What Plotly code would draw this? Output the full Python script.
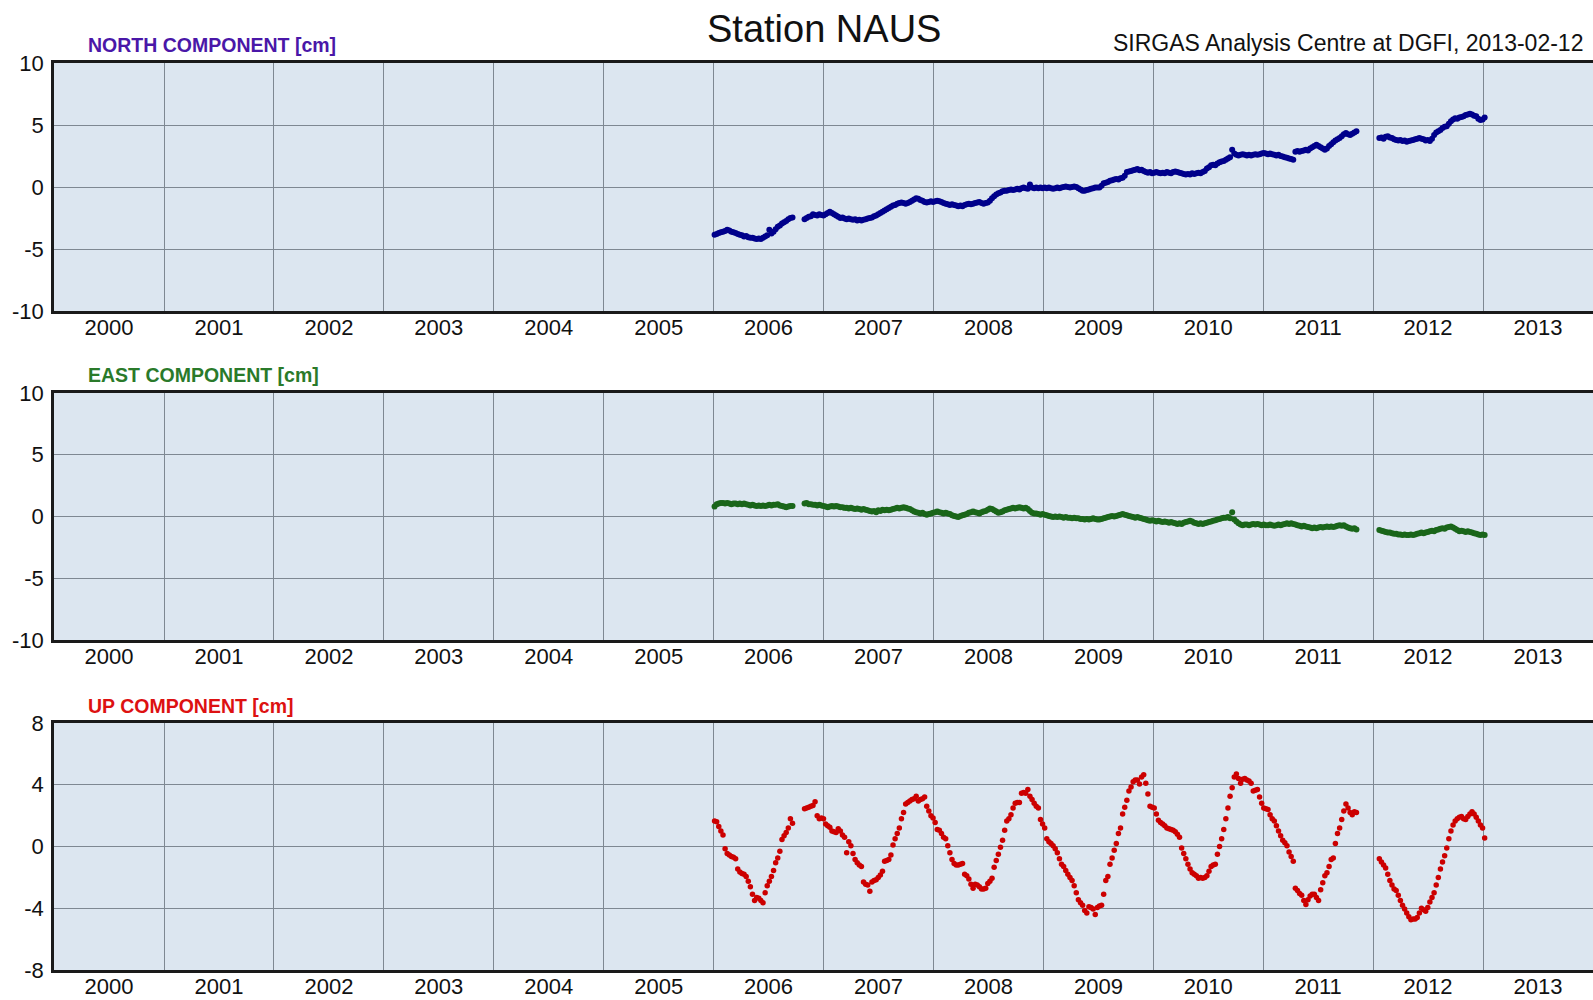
import pandas as pd
import plotly.graph_objects as go

# ---------------- data ----------------
TITLE = "Station NAUS"
SUBTITLE = "SIRGAS Analysis Centre at DGFI, 2013-02-12"
PANEL_LABELS = ["NORTH COMPONENT [cm]", "EAST COMPONENT [cm]", "UP COMPONENT [cm]"]
X_RANGE = ["2000-01-01", "2014-01-01"]
Y_RANGES = [[-10, 10], [-10, 10], [-8, 8]]
Y_TICKS = [[-10, -5, 0, 5, 10], [-10, -5, 0, 5, 10], [-8, -4, 0, 4, 8]]
Y_TICKTEXT = [["-10", "-5", "0", "5", "10"], ["-10", "-5", "0", "5", "10"],
              ["-8", "-4", "0", "4", "8"]]

# weekly solutions: three continuous segments, start dates
SEGMENT_STARTS = ["2006-01-04", "2006-10-30", "2012-01-22"]

NORTH_A = [-3.85, -3.8, -3.7, -3.65, -3.6, -3.55, -3.45, -3.5, -3.6, -3.65,
           -3.7, -3.8, -3.85, -3.9, -4.0, -3.95, -4.05, -4.1, -4.1, -4.15,
           -4.2, -4.15, -4.2, -4.1, -4.0, -3.9, -3.45, -3.75, -3.6, -3.4,
           -3.2, -3.1, -2.95, -2.85, -2.75, -2.6, -2.5, -2.45]
NORTH_B = [-2.6, -2.5, -2.4, -2.35, -2.2, -2.25, -2.3, -2.2, -2.25, -2.3,
           -2.2, -2.1, -2.0, -2.1, -2.2, -2.3, -2.4, -2.5, -2.45, -2.55,
           -2.6, -2.55, -2.6, -2.65, -2.6, -2.7, -2.65, -2.7, -2.65, -2.6,
           -2.55, -2.5, -2.45, -2.35, -2.3, -2.2, -2.1, -2.0, -1.9, -1.8,
           -1.7, -1.6, -1.5, -1.45, -1.35, -1.3, -1.25, -1.3, -1.35, -1.3,
           -1.2, -1.1, -1.0, -0.9, -0.95, -1.05, -1.1, -1.2, -1.25, -1.2,
           -1.15, -1.2, -1.15, -1.1, -1.15, -1.2, -1.3, -1.35, -1.4, -1.45,
           -1.4, -1.45, -1.5, -1.55, -1.5, -1.55, -1.45, -1.4, -1.35, -1.4,
           -1.35, -1.3, -1.25, -1.2, -1.3, -1.35, -1.3, -1.25, -1.1, -0.9,
           -0.75, -0.6, -0.5, -0.45, -0.35, -0.3, -0.3, -0.25, -0.2, -0.25,
           -0.2, -0.15, -0.2, -0.1, -0.05, -0.1, -0.15, 0.2, -0.05, -0.1,
           -0.05, -0.1, -0.05, -0.1, -0.05, -0.1, -0.05, -0.1, -0.15, -0.1,
           -0.05, -0.1, -0.05, 0.0, 0.05, 0.0, -0.05, 0.0, 0.05, 0.0,
           -0.1, -0.2, -0.3, -0.3, -0.25, -0.2, -0.15, -0.1, -0.05, -0.05,
           -0.05, 0.1, 0.3, 0.35, 0.4, 0.5, 0.55, 0.6, 0.65, 0.6,
           0.7, 0.75, 0.9, 1.2, 1.25, 1.3, 1.35, 1.4, 1.45, 1.35,
           1.4, 1.3, 1.2, 1.15, 1.2, 1.1, 1.15, 1.2, 1.15, 1.1,
           1.15, 1.1, 1.2, 1.15, 1.1, 1.2, 1.25, 1.2, 1.15, 1.1,
           1.05, 1.0, 1.05, 1.0, 1.1, 1.05, 1.1, 1.15, 1.1, 1.2,
           1.3, 1.5, 1.6, 1.75, 1.8, 1.75, 1.9, 2.0, 2.05, 2.1,
           2.2, 2.3, 2.4, 3.0, 2.7, 2.6, 2.55, 2.6, 2.65, 2.6,
           2.55, 2.6, 2.55, 2.6, 2.65, 2.6, 2.65, 2.7, 2.75, 2.7,
           2.65, 2.7, 2.65, 2.6, 2.55, 2.6, 2.5, 2.45, 2.4, 2.35,
           2.3, 2.25, 2.2, 2.85, 2.9, 2.85, 2.9, 2.95, 3.0, 2.95,
           3.1, 3.2, 3.3, 3.4, 3.3, 3.2, 3.1, 3.0, 3.1, 3.3,
           3.45, 3.6, 3.75, 3.85, 3.95, 4.1, 4.25, 4.35, 4.25, 4.2,
           4.3, 4.4, 4.5]
NORTH_C = [3.95, 4.0, 3.9, 4.05, 4.1, 4.0, 3.95, 3.85, 3.8, 3.75,
           3.8, 3.7, 3.75, 3.65, 3.7, 3.75, 3.8, 3.85, 3.9, 3.95,
           3.9, 3.85, 3.75, 3.8, 3.7, 3.9, 4.2, 4.4, 4.5, 4.6,
           4.75, 4.85, 4.9, 5.1, 5.3, 5.45, 5.55, 5.5, 5.6, 5.65,
           5.7, 5.8, 5.85, 5.9, 5.85, 5.75, 5.7, 5.5, 5.4, 5.45,
           5.6]

EAST_A = [0.8, 1.0, 1.05, 1.1, 1.1, 1.05, 1.1, 1.05, 1.0, 1.05,
          1.05, 1.0, 1.05, 1.0, 1.05, 1.0, 0.95, 0.9, 0.95, 0.9,
          0.85, 0.9, 0.85, 0.9, 0.85, 0.9, 0.95, 0.9, 0.95, 0.95,
          1.0, 0.9, 0.85, 0.8, 0.75, 0.8, 0.85, 0.85]
EAST_B = [1.05, 1.1, 1.0, 1.0, 0.95, 0.95, 0.9, 0.95, 0.9, 0.85,
          0.8, 0.75, 0.8, 0.85, 0.8, 0.85, 0.8, 0.75, 0.75, 0.7,
          0.7, 0.65, 0.7, 0.65, 0.6, 0.65, 0.6, 0.55, 0.6, 0.55,
          0.5, 0.45, 0.4, 0.45, 0.35, 0.5, 0.45, 0.55, 0.5, 0.55,
          0.5, 0.55, 0.6, 0.65, 0.7, 0.65, 0.7, 0.75, 0.7, 0.65,
          0.6, 0.5, 0.4, 0.35, 0.3, 0.25, 0.3, 0.2, 0.15, 0.2,
          0.25, 0.3, 0.35, 0.4, 0.35, 0.3, 0.25, 0.3, 0.25, 0.2,
          0.1, 0.05, 0.0, -0.05, 0.05, 0.1, 0.15, 0.2, 0.3, 0.35,
          0.4, 0.35, 0.3, 0.25, 0.35, 0.4, 0.45, 0.55, 0.65, 0.6,
          0.5, 0.4, 0.3, 0.35, 0.4, 0.5, 0.55, 0.6, 0.65, 0.7,
          0.65, 0.7, 0.75, 0.7, 0.65, 0.7, 0.6, 0.45, 0.3, 0.25,
          0.25, 0.2, 0.15, 0.2, 0.15, 0.1, 0.05, 0.0, -0.05, 0.0,
          -0.05, 0.0, -0.05, -0.1, -0.05, -0.1, -0.1, -0.15, -0.1, -0.15,
          -0.15, -0.2, -0.2, -0.25, -0.2, -0.25, -0.2, -0.15, -0.2, -0.25,
          -0.25, -0.2, -0.15, -0.1, -0.05, 0.0, 0.05, 0.0, 0.05, 0.1,
          0.15, 0.2, 0.15, 0.1, 0.05, 0.0, -0.05, -0.1, -0.05, -0.1,
          -0.15, -0.2, -0.25, -0.3, -0.35, -0.3, -0.35, -0.4, -0.35, -0.4,
          -0.45, -0.4, -0.45, -0.5, -0.45, -0.5, -0.55, -0.6, -0.55, -0.6,
          -0.5, -0.45, -0.4, -0.35, -0.4, -0.5, -0.55, -0.6, -0.55, -0.6,
          -0.55, -0.5, -0.45, -0.4, -0.35, -0.3, -0.25, -0.2, -0.15, -0.1,
          -0.1, -0.05, -0.15, 0.35, -0.25, -0.4, -0.55, -0.65, -0.7, -0.65,
          -0.65, -0.7, -0.65, -0.6, -0.65, -0.6, -0.65, -0.7, -0.65, -0.7,
          -0.7, -0.65, -0.7, -0.75, -0.7, -0.65, -0.7, -0.65, -0.6, -0.55,
          -0.6, -0.55, -0.6, -0.65, -0.7, -0.75, -0.8, -0.75, -0.8, -0.85,
          -0.9, -0.95, -0.9, -0.95, -0.9, -0.85, -0.9, -0.85, -0.8, -0.85,
          -0.8, -0.85, -0.8, -0.75, -0.7, -0.75, -0.7, -0.8, -0.9, -0.95,
          -1.0, -0.95, -1.05]
EAST_C = [-1.1, -1.15, -1.2, -1.25, -1.3, -1.3, -1.35, -1.4, -1.4, -1.45,
          -1.45, -1.5, -1.45, -1.5, -1.5, -1.45, -1.5, -1.45, -1.4, -1.35,
          -1.3, -1.35, -1.3, -1.25, -1.2, -1.15, -1.2, -1.1, -1.05, -1.0,
          -0.95, -1.0, -0.9, -0.85, -0.8, -0.9, -1.0, -1.1, -1.2, -1.15,
          -1.2, -1.25, -1.2, -1.25, -1.3, -1.35, -1.4, -1.45, -1.5, -1.45,
          -1.5]

UP_A = [1.65, 1.6, 1.3, 1.0, 0.75, -0.15, -0.45, -0.55, -0.65, -0.7,
        -0.8, -1.45, -1.65, -1.75, -1.8, -1.95, -2.25, -2.6, -3.1, -3.5,
        -3.3, -3.35, -3.5, -3.65, -3.0, -2.55, -2.25, -1.95, -1.55, -1.05,
        -0.75, -0.3, 0.45, 0.7, 0.9, 1.2, 1.8, 1.5]
UP_B = [2.45, 2.5, 2.55, 2.6, 2.65, 2.9, 2.0, 1.8, 1.85, 1.8,
        1.45, 1.35, 1.25, 1.0, 0.95, 0.9, 1.15, 1.0, 0.75, 0.6,
        -0.4, 0.3, 0.05, -0.45, -0.85, -1.05, -1.2, -1.3, -2.3, -2.45,
        -2.5, -2.9, -2.3, -2.2, -2.15, -2.0, -1.85, -1.6, -0.95, -0.9,
        -0.85, -0.55, 0.1, 0.5, 0.85, 1.2, 1.8, 2.2, 2.75, 2.85,
        2.95, 3.05, 3.1, 3.25, 2.95, 3.05, 3.1, 3.2, 2.6, 2.3,
        2.0, 1.85, 1.55, 1.1, 1.05, 0.85, 0.6, 0.5, 0.05, -0.4,
        -0.85, -1.1, -1.2, -1.2, -1.15, -1.1, -1.8, -1.9, -2.1, -2.45,
        -2.7, -2.45, -2.5, -2.6, -2.75, -2.75, -2.7, -2.4, -2.25, -2.05,
        -1.35, -0.9, -0.5, -0.05, 0.4, 1.05, 1.65, 1.8, 2.05, 2.5,
        2.8, 2.85, 2.85, 3.45, 3.5, 3.45, 3.7, 3.25, 3.05, 2.8,
        2.6, 2.5, 1.75, 1.45, 1.2, 0.5, 0.3, 0.2, 0.05, -0.15,
        -0.4, -0.8, -1.15, -1.3, -1.55, -1.8, -2.0, -2.2, -2.55, -3.0,
        -3.45, -3.65, -3.8, -4.15, -4.3, -3.9, -3.95, -4.05, -4.4, -3.95,
        -3.85, -3.8, -3.1, -2.2, -1.95, -1.15, -0.75, -0.25, 0.2, 0.85,
        1.2, 2.1, 2.55, 3.0, 3.6, 3.85, 4.2, 4.3, 4.3, 4.05,
        4.5, 4.65, 4.1, 3.4, 2.6, 2.55, 2.5, 2.1, 1.7, 1.55,
        1.45, 1.35, 1.2, 1.15, 1.1, 1.05, 0.95, 0.8, 0.6, -0.1,
        -0.45, -0.8, -1.15, -1.45, -1.7, -1.8, -1.9, -2.05, -2.0, -2.05,
        -2.0, -1.9, -1.6, -1.3, -1.2, -1.15, -0.5, 0.0, 0.5, 1.1,
        1.8, 2.5, 3.25, 3.8, 4.5, 4.7, 4.4, 4.1, 4.35, 4.4,
        4.3, 4.25, 4.1, 3.6, 3.65, 3.7, 3.2, 2.8, 2.5, 2.45,
        2.4, 2.05, 1.8, 1.65, 1.35, 1.0, 0.7, 0.4, 0.25, 0.05,
        -0.35, -0.65, -0.95, -2.7, -2.85, -3.05, -3.15, -3.5, -3.75, -3.45,
        -3.2, -3.1, -3.1, -3.3, -3.5, -2.8, -2.35, -1.9, -1.7, -1.3,
        -0.85, -0.75, 0.2, 0.85, 1.2, 1.75, 2.3, 2.75, 2.5, 2.2,
        2.05, 2.25, 2.2]
UP_C = [-0.8, -1.0, -1.2, -1.4, -1.8, -2.2, -2.5, -2.75, -2.85, -3.15,
        -3.5, -3.8, -4.05, -4.3, -4.55, -4.75, -4.7, -4.7, -4.6, -4.3,
        -4.0, -4.1, -4.2, -3.95, -3.6, -3.3, -3.0, -2.5, -2.0, -1.45,
        -1.0, -0.6, -0.1, 0.5, 1.0, 1.4, 1.65, 1.8, 1.9, 1.95,
        1.8, 1.75, 1.95, 2.1, 2.25, 2.1, 1.9, 1.65, 1.4, 1.2,
        0.55]

# ---------------- styling ----------------
FONT = "Liberation Sans, Arial, Helvetica, sans-serif"
MARKER_COLORS = ["#00008b", "#1a661a", "#cc0000"]
LABEL_COLORS = ["#4a17a8", "#2a7a2a", "#dd1111"]
BG = "#dce6f0"
GRID = "#7e8892"

components = [
    [NORTH_A, NORTH_B, NORTH_C],
    [EAST_A, EAST_B, EAST_C],
    [UP_A, UP_B, UP_C],
]

W, H = 1593, 1000
L_MARGIN = 54
# panel pixel extents (top, bottom)
PANELS_PX = [(63, 311), (393, 640), (723, 970)]
LABEL_Y_PX = [45.5, 375.5, 705.5]

fig = go.Figure()
for k, segs in enumerate(components):
    xs, ys = [], []
    for start, vals in zip(SEGMENT_STARTS, segs):
        dates = pd.date_range(start, periods=len(vals), freq="7D")
        xs.extend(list(dates))
        ys.extend(vals)
    suffix = "" if k == 0 else str(k + 1)
    fig.add_trace(go.Scatter(
        x=xs, y=ys, mode="markers",
        marker=dict(size=6 if k < 2 else 5.5, color=MARKER_COLORS[k],
                    line=dict(width=0)),
        xaxis="x" + suffix, yaxis="y" + suffix,
        showlegend=False, hoverinfo="skip",
    ))

layout = dict(
    width=W, height=H, autosize=False,
    margin=dict(l=L_MARGIN, r=0, t=0, b=0, pad=0),
    paper_bgcolor="white", plot_bgcolor=BG,
    font=dict(family=FONT, size=22, color="#111111"),
)

for k in range(3):
    suffix = "" if k == 0 else str(k + 1)
    top, bot = PANELS_PX[k]
    dom = [1 - bot / H, 1 - top / H]
    layout["xaxis" + suffix] = dict(
        type="date", range=X_RANGE, domain=[0, 1],
        anchor="y" + suffix, automargin=False,
        dtick="M12", tick0="2000-01-01", tickformat="%Y",
        ticklabelmode="period", ticks="",
        showgrid=True, gridcolor=GRID, gridwidth=1.4,
        showline=True, linecolor="#1a1a1a", linewidth=2.5, mirror=True,
        tickfont=dict(size=22, color="#111111"),
        ticklabelstandoff=-5,
        fixedrange=True,
    )
    layout["yaxis" + suffix] = dict(
        range=Y_RANGES[k], tickvals=Y_TICKS[k], ticktext=Y_TICKTEXT[k],
        domain=dom, anchor="x" + suffix, automargin=False,
        ticks="", showgrid=True, gridcolor=GRID, gridwidth=1.4,
        zeroline=False,
        showline=True, linecolor="#1a1a1a", linewidth=2.5,
        tickfont=dict(size=22, color="#111111"),
        ticklabelstandoff=3,
        fixedrange=True,
    )

annotations = [
    dict(text=TITLE, xref="paper", yref="paper", x=0.5, y=1 - 29 / H,
         xanchor="center", yanchor="middle", showarrow=False,
         font=dict(size=38, color="#111111", family=FONT)),
    dict(text=SUBTITLE, xref="paper", yref="paper",
         x=(1585 - L_MARGIN) / (W - L_MARGIN), y=1 - 43 / H,
         xanchor="right", yanchor="middle", showarrow=False,
         font=dict(size=23, color="#111111", family=FONT)),
]
for k in range(3):
    annotations.append(dict(
        text="<b>" + PANEL_LABELS[k] + "</b>", xref="paper", yref="paper",
        x=(86 - L_MARGIN) / (W - L_MARGIN), y=1 - LABEL_Y_PX[k] / H,
        xanchor="left", yanchor="middle", showarrow=False,
        font=dict(size=19.5, color=LABEL_COLORS[k], family=FONT),
    ))
layout["annotations"] = annotations

fig.update_layout(**layout)
fig.write_html(
    "out.html",
    config={"displayModeBar": False},
    post_script="document.body.style.margin='0px';"
                "document.body.style.overflow='hidden';",
)
